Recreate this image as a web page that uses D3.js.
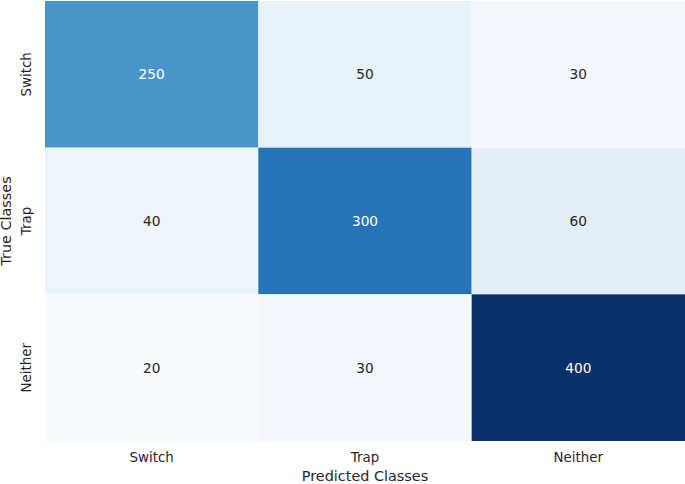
<!DOCTYPE html>
<html>
<head>
<meta charset="utf-8">
<script src="https://cdn.jsdelivr.net/npm/d3@7"></script>
<style>
  body { margin: 0; background: #fff; }
  text { font-family: "DejaVu Sans", sans-serif; }
</style>
</head>
<body>
<svg width="685" height="484"></svg>
<script>
const predicted = ["Switch", "Trap", "Neither"];
const actual = ["Switch", "Trap", "Neither"];
const counts = [
  [250, 50, 30],
  [40, 300, 60],
  [20, 30, 400]
];

const svg = d3.select("svg");
const margin = { left: 45, top: 1, right: 0, bottom: 43 };
const width = 685 - margin.left - margin.right,
  height = 484 - margin.top - margin.bottom;

const g = svg.append("g").attr("transform", `translate(${margin.left},${margin.top})`);

const x = d3.scaleBand().domain(predicted).range([0, width]);
const y = d3.scaleBand().domain(actual).range([0, height]);

// matplotlib "Blues", linear between the 9 colorbrewer stops
const blues = ["#f7fbff", "#deebf7", "#c6dbef", "#9ecae1", "#6baed6", "#4292c6", "#2171b5", "#08519c", "#08306b"];
const flat = counts.flat();
const vmin = d3.min(flat), vmax = d3.max(flat);
const color = d3
  .scaleLinear()
  .domain(blues.map((_, i) => vmin + (i / (blues.length - 1)) * (vmax - vmin)))
  .range(blues)
  .interpolate(d3.interpolateRgb);

const cells = [];
counts.forEach((row, i) => {
  row.forEach((v, j) => cells.push({ row: actual[i], col: predicted[j], value: v }));
});

g.selectAll("rect")
  .data(cells)
  .enter()
  .append("rect")
  .attr("x", (d) => x(d.col))
  .attr("y", (d) => y(d.row))
  .attr("width", x.bandwidth())
  .attr("height", y.bandwidth())
  .attr("fill", (d) => color(d.value));

function isDark(c) {
  const rgb = d3.rgb(c);
  const lin = [rgb.r, rgb.g, rgb.b].map((v) => {
    v /= 255;
    return v <= 0.03928 ? v / 12.92 : Math.pow((v + 0.055) / 1.055, 2.4);
  });
  return 0.2126 * lin[0] + 0.7152 * lin[1] + 0.0722 * lin[2] < 0.408;
}

g.selectAll("text.annot")
  .data(cells)
  .enter()
  .append("text")
  .attr("class", "annot")
  .attr("x", (d) => x(d.col) + x.bandwidth() / 2)
  .attr("y", (d) => y(d.row) + y.bandwidth() / 2)
  .attr("text-anchor", "middle")
  .attr("dominant-baseline", "central")
  .attr("font-size", "13.7px")
  .attr("fill", (d) => (isDark(color(d.value)) ? "#ffffff" : "#262626"))
  .text((d) => d.value);

// x tick labels
g.append("g")
  .attr("transform", `translate(0,${height})`)
  .call(d3.axisBottom(x).tickSize(0).tickPadding(11))
  .call((a) => a.select(".domain").remove())
  .selectAll("text")
  .attr("font-size", "13.4px")
  .attr("fill", "#262626");

// y tick labels (rotated)
g.append("g")
  .call(d3.axisLeft(y).tickSize(0))
  .call((a) => a.select(".domain").remove())
  .selectAll("text")
  .attr("font-size", "13.4px")
  .attr("fill", "#262626")
  .attr("text-anchor", "middle")
  .attr("dy", null)
  .attr("x", null)
  .attr("transform", "translate(-14.5,0) rotate(-90)");

svg.append("text")
  .attr("x", margin.left + width / 2)
  .attr("y", 481)
  .attr("text-anchor", "middle")
  .attr("font-size", "14.4px")
  .attr("fill", "#262626")
  .text("Predicted Classes");

svg.append("text")
  .attr("transform", `translate(11,${margin.top + height / 2}) rotate(-90)`)
  .attr("text-anchor", "middle")
  .attr("font-size", "14.4px")
  .attr("fill", "#262626")
  .text("True Classes");
</script>
</body>
</html>
